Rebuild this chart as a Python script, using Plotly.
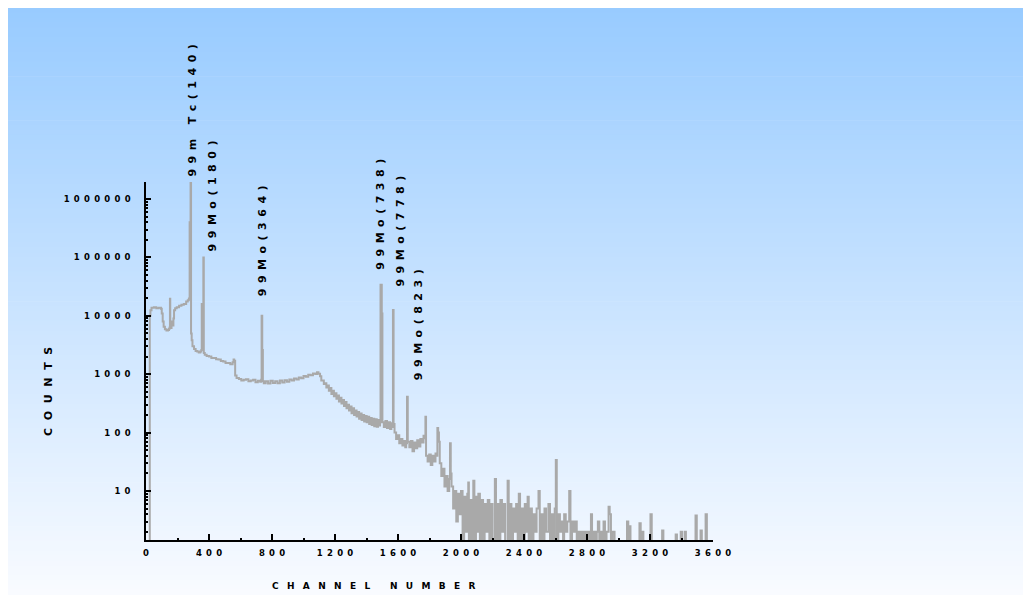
import math
import plotly.graph_objects as go

# ---------------- data ----------------
channels = [
    22, 24, 28, 35, 50, 65, 80, 95, 100, 106, 112, 120, 130, 140, 146, 150, 152, 154, 158, 162,
    166, 170, 174, 178, 185, 195, 210, 225, 240, 255, 265, 272, 275, 277, 279, 283, 286, 290, 295, 305,
    315, 325, 335, 345, 351, 354, 357, 361, 364, 367, 373, 385, 400, 415, 430, 445, 460, 475, 490, 505,
    520, 535, 550, 556, 560, 566, 575, 590, 605, 620, 635, 650, 665, 680, 695, 710, 725, 731, 734, 738,
    742, 748, 760, 775, 790, 805, 820, 835, 850, 865, 880, 895, 910, 925, 940, 955, 970, 985, 1000, 1015,
    1030, 1045, 1060, 1075, 1086, 1095,
    1105, 1113, 1121, 1129, 1137, 1145, 1153, 1161, 1169, 1177, 1185, 1193, 1201, 1209, 1217, 1225, 1233, 1241, 1249, 1257,
    1265, 1273, 1281, 1289, 1297, 1305, 1313, 1321, 1329, 1337, 1345, 1353, 1361, 1369, 1377, 1385, 1393, 1401, 1409, 1417,
    1425, 1433, 1441, 1449, 1457, 1465, 1473, 1481, 1486, 1489, 1497, 1501, 1510, 1520, 1530, 1540, 1550, 1558, 1564, 1568,
    1572, 1578, 1588, 1598, 1608, 1618, 1628, 1638, 1646, 1652, 1657, 1662, 1672, 1682, 1692, 1702, 1712, 1722, 1732, 1742,
    1752, 1762, 1770, 1774, 1778, 1788, 1798, 1808, 1818, 1828, 1838, 1845, 1850, 1855, 1860, 1865, 1875, 1885, 1895, 1905,
    1915, 1925, 1930, 1935,
    1940, 1950, 1960, 1970, 1980, 1990, 2000, 2010, 2020, 2030, 2040, 2046, 2050, 2060, 2070, 2078, 2085, 2095, 2105, 2110,
    2120, 2130, 2140, 2150, 2160, 2170, 2180, 2190, 2200, 2215, 2222, 2230, 2240, 2250, 2260, 2270, 2280, 2296, 2303, 2310,
    2320, 2330, 2340, 2350, 2360, 2367, 2375, 2385, 2395, 2405, 2415, 2423, 2430, 2440, 2450, 2460, 2470, 2480, 2492, 2500,
    2510, 2520, 2530, 2540, 2555, 2565, 2575, 2585, 2595, 2602, 2608, 2618, 2628, 2638, 2648, 2655, 2665, 2675, 2687, 2695,
    2705, 2715, 2725, 2735, 2745, 2755, 2765, 2775, 2785, 2795, 2805, 2815, 2825, 2832, 2842, 2852, 2862, 2869, 2878, 2888,
    2898, 2905, 2914, 2924, 2937, 2944, 2952, 2962, 2975, 3000, 3054, 3062, 3068, 3076, 3133, 3141, 3150, 3158, 3203, 3211,
    3277, 3285, 3363, 3371, 3395, 3403, 3420, 3428, 3489, 3497, 3521, 3529, 3553, 3561, 3600,
]

counts = [
    1, 10000, 12500, 13800, 14000, 13500, 13800, 13200, 11000, 8000, 6500, 5900, 5600, 5700, 6000, 6300, 19500, 6500, 6200, 7000,
    8000, 6800, 9000, 12500, 13500, 14000, 14800, 15500, 16000, 17500, 18500, 19500, 20000, 400000, 60000, 3000000, 5000, 3800, 3000, 2700,
    2500, 2450, 2350, 2450, 2600, 16000, 3000, 2800, 100000, 2300, 2150, 2050, 2000, 1900, 1900, 1800, 1780, 1680, 1650, 1560,
    1550, 1480, 1600, 1780, 1700, 950, 860, 830, 780, 800, 820, 760, 780, 800, 730, 770, 740, 800, 10000, 2600,
    760, 700, 760, 690, 770, 710, 760, 700, 780, 720, 790, 740, 810, 780, 840, 810, 880, 850, 930, 900,
    980, 960, 1030, 1010, 1080, 1020,
    920, 780, 780, 680, 700, 590, 640, 520, 580, 460, 520, 420, 470, 380, 430, 340, 395, 315, 360, 285,
    335, 262, 300, 240, 280, 215, 260, 200, 240, 188, 225, 172, 212, 165, 200, 155, 192, 150, 186, 140,
    178, 135, 172, 128, 170, 126, 165, 132, 150, 34000, 11000, 150, 125, 158, 120, 150, 115, 145, 125, 12600,
    140, 100, 78, 90, 66, 78, 60, 72, 56, 66, 410, 70, 56, 72, 48, 68, 54, 74, 58, 78,
    68, 88, 80, 186, 40, 32, 42, 28, 40, 32, 44, 40, 120, 100, 70, 30, 18, 24, 12, 18,
    10, 16, 66, 20,
    12, 5, 10, 3, 9, 4, 10, 1, 8, 2, 9, 14, 1, 7, 1, 15, 1, 8, 2, 9,
    1, 7, 1, 6, 2, 7, 1, 6, 1, 16, 1, 6, 1, 7, 2, 6, 1, 15, 1, 6,
    1, 5, 2, 6, 1, 9, 1, 5, 1, 6, 2, 8, 1, 5, 1, 4, 2, 5, 10, 1,
    4, 1, 5, 2, 6, 1, 4, 1, 5, 34, 1, 4, 2, 3, 1, 4, 2, 3, 10, 1,
    3, 2, 3, 1, 2, 1, 2, 1, 2, 1, 2, 1, 4, 1, 2, 1, 2, 3, 1, 2,
    1, 3, 1, 2, 5.4, 4, 1, 2, 1, 1, 3, 1, 2.5, 1, 2.8, 1, 2, 1, 4, 1,
    2.1, 1, 1.8, 1, 2, 1, 2, 1, 3.8, 1, 2.1, 1, 4, 1, 1,
]

y_tick_values = [10, 100, 1000, 10000, 100000, 1000000]
y_tick_labels = ["10", "100", "1000", "10000", "100000", "1000000"]
x_tick_values = [0, 400, 800, 1200, 1600, 2000, 2400, 2800, 3200, 3600]
x_tick_labels = ["0", "400", "800", "1200", "1600", "2000", "2400", "2800", "3200", "3600"]

peak_labels = ["99m Tc(140)", "99Mo(180)", "99Mo(364)", "99Mo(738)", "99Mo(778)", "99Mo(823)"]
# label placement: channel of text centre, count at text bottom
label_x = [294, 422, 740, 1489, 1617, 1727]
label_y = [2.26e6, 1.17e5, 2.0e4, 5.7e4, 2.95e4, 716]

x_title = "CHANNEL NUMBER"
y_title = "COUNTS"

# ---------------- layout helpers ----------------
def spaced(s, sep):
    out = []
    for ch in s:
        out.append("\u2004" if ch == " " else ch)
    return sep.join(out)

W, H = 1023, 587
L, R, T, B = 138, 705, 174, 532
YLOG = (0.161, 6.291)

def ypaper(v):
    return (math.log10(v) - YLOG[0]) / (YLOG[1] - YLOG[0])

fig = go.Figure()
fig.add_trace(go.Scatter(x=channels, y=counts, mode="lines",
                         line=dict(color="#A9A9A9", width=2, shape="hv"), hoverinfo="skip"))

# background gradient over whole paper
shapes = []
n = 120
top = (152, 203, 255)
bot = (249, 251, 255)
for i in range(n):
    ya = H * i / n
    yb = H * (i + 1) / n
    f = (i + 0.5) / n
    c = tuple(round(top[k] + (bot[k] - top[k]) * f) for k in range(3))
    shapes.append(dict(type="rect", xref="paper", yref="paper",
                       x0=(0 - L) / (R - L), x1=(W - L) / (R - L),
                       y0=(B - yb) / (B - T) - 0.001, y1=(B - ya) / (B - T) + 0.001,
                       fillcolor="rgb(%d,%d,%d)" % c, line=dict(width=0), layer="below"))

annotations = []
for txt, lx, ly in zip(peak_labels, label_x, label_y):
    annotations.append(dict(x=lx, y=ypaper(ly), xref="x", yref="paper",
                            text="<b>" + spaced(txt, "\u2002") + "</b>",
                            textangle=-90, showarrow=False,
                            xanchor="center", yanchor="bottom",
                            font=dict(family="DejaVu Sans", size=11, color="black")))

annotations.append(dict(x=(366 - L) / (R - L), y=(B - 578) / (B - T), xref="paper", yref="paper",
                        text="<b>" + spaced(x_title, "\u2002\u2004\u200a") + "</b>", showarrow=False,
                        xanchor="center", yanchor="middle",
                        font=dict(family="DejaVu Sans", size=9, color="black")))
annotations.append(dict(x=(40 - L) / (R - L), y=(B - 384) / (B - T), xref="paper", yref="paper",
                        text="<b>" + spaced(y_title, "\u2007") + "</b>", showarrow=False,
                        textangle=-90, xanchor="center", yanchor="middle",
                        font=dict(family="DejaVu Sans", size=11, color="black")))

minor_y = [m * 10 ** k for k in range(0, 7) for m in range(2, 10)]

fig.update_layout(
    width=W, height=H,
    margin=dict(l=L, r=W - R, t=T, b=H - B, pad=0),
    paper_bgcolor="white", plot_bgcolor="rgba(0,0,0,0)",
    showlegend=False, shapes=shapes, annotations=annotations,
    xaxis=dict(range=[0, 3600], tickmode="array", tickvals=x_tick_values,
               ticktext=["<b>" + spaced(t, "\u2002") + "</b>" for t in x_tick_labels],
               ticks="inside", ticklen=6, tickwidth=1.5, tickcolor="black",
               showline=True, linecolor="black", linewidth=1.5,
               showgrid=False, zeroline=False, ticklabelstandoff=4,
               tickfont=dict(family="DejaVu Sans", size=8.5, color="black"),
               minor=dict(tick0=0, dtick=200, ticks="inside", ticklen=2.5, tickcolor="black", showgrid=False)),
    yaxis=dict(type="log", range=list(YLOG), tickmode="array", tickvals=y_tick_values,
               ticktext=["<b>" + spaced(t, "\u2002") + "</b>" for t in y_tick_labels],
               ticks="inside", ticklen=5, tickwidth=1.5, tickcolor="black",
               showline=True, linecolor="black", linewidth=1.5,
               showgrid=False, zeroline=False, ticklabelstandoff=12,
               tickfont=dict(family="DejaVu Sans", size=8.5, color="black"),
               minor=dict(tickvals=minor_y, ticks="inside", ticklen=2.5, tickcolor="black", showgrid=False)),
)

fig.write_html("out.html")
